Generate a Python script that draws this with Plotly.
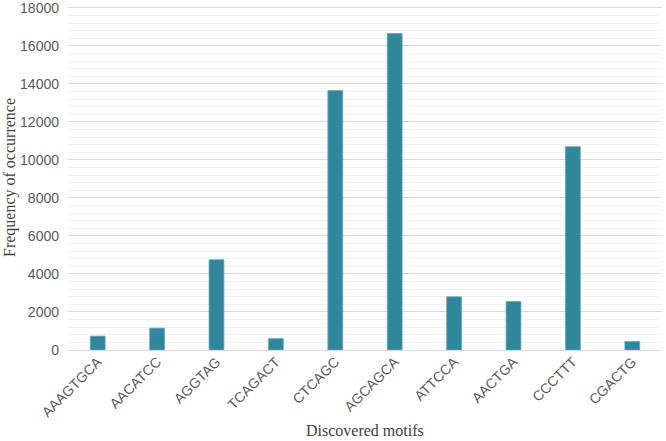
import plotly.graph_objects as go

motifs = ["AAAGTGCA", "AACATCC", "AGGTAG", "TCAGACT", "CTCAGC",
          "AGCAGCA", "ATTCCA", "AACTGA", "CCCTTT", "CGACTG"]
frequency = [730, 1150, 4750, 600, 13650, 16650, 2800, 2550, 10700, 450]

tickfont = dict(family="Liberation Sans, Arial", size=14, color="#595959")
titlefont = dict(family="Liberation Serif, Times New Roman", size=16, color="#404040")

fig = go.Figure(go.Bar(
    x=motifs, y=frequency,
    marker=dict(color="#31869B", line=dict(color="#5FA9BC", width=0.8)),
    width=0.25,
))

fig.update_layout(
    width=666, height=441,
    margin=dict(l=68, r=4, t=6, b=91),
    paper_bgcolor="white", plot_bgcolor="white",
    showlegend=False,
    xaxis=dict(
        tickangle=-45,
        tickfont=tickfont,
        showgrid=False, showline=False, ticks="",
        automargin=False,
    ),
    yaxis=dict(
        range=[0, 18100],
        tickmode="array",
        tickvals=list(range(0, 18001, 2000)),
        ticktext=[str(v) for v in range(0, 18001, 2000)],
        tickfont=tickfont,
        gridcolor="#D9D9D9", gridwidth=1,
        zeroline=True, zerolinecolor="#D9D9D9", zerolinewidth=1,
        minor=dict(tickmode="linear", tick0=0, dtick=400, showgrid=True,
                   gridcolor="#F0F0F0", gridwidth=1),
        ticks="", showline=False,
        ticklabelstandoff=8,
        ticklabeloverflow="allow",
        automargin=False,
    ),
    annotations=[
        dict(text="Discovered motifs", xref="paper", yref="paper",
             x=0.5, y=0, yshift=-80, showarrow=False, font=titlefont,
             xanchor="center", yanchor="middle"),
        dict(text="Frequency of occurrence", xref="paper", yref="paper",
             x=0, y=0.5, xshift=-58, showarrow=False, font=titlefont,
             textangle=-90, xanchor="center", yanchor="middle"),
    ],
)

fig.write_html("out.html", config={"displayModeBar": False},
               post_script="document.body.style.margin='0';")
